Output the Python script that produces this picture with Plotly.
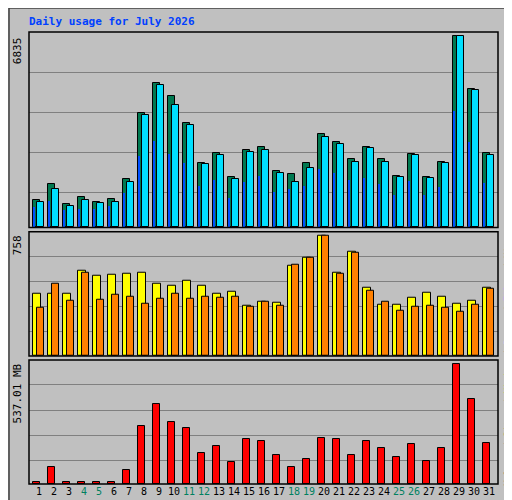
import plotly.graph_objects as go
from plotly.subplots import make_subplots

days = list(range(1, 32))
weekend = [4, 5, 11, 12, 18, 19, 25, 26]

hits = [966, 1539, 823, 1074, 895, 1002, 1718, 4080, 5154, 4689, 3722, 2291, 2649, 1790, 2756, 2863,
        2004, 1897, 2291, 3328, 3042, 2434, 2863, 2434, 1825, 2613, 1790, 2326, 6835, 4939, 2649]
files = [895, 1360, 752, 966, 859, 895, 1611, 4008, 5082, 4366, 3651, 2255, 2577, 1718, 2684, 2756,
         1933, 1611, 2112, 3221, 2971, 2326, 2827, 2326, 1790, 2577, 1754, 2291, 6835, 4903, 2577]
pages = [716, 931, 608, 644, 644, 752, 1217, 2541, 3078, 2613, 2291, 1467, 1682, 1038, 1611, 1825,
         1253, 1360, 1467, 2076, 1933, 1682, 1754, 1539, 1145, 1646, 1145, 1432, 4151, 3042, 1575]
visits = [392, 392, 392, 537, 505, 512, 518, 524, 455, 442, 474, 442, 392, 404, 316, 341,
          335, 569, 619, 758, 524, 657, 430, 322, 322, 366, 398, 373, 329, 347, 430]
sites = [303, 455, 347, 524, 354, 385, 373, 329, 360, 392, 360, 373, 366, 373, 310, 341,
         316, 575, 619, 758, 518, 651, 411, 341, 284, 310, 316, 303, 278, 322, 423]
volume = [10.5, 78, 10.5, 10.5, 10.5, 10.5, 64.5, 258, 357, 280, 249, 137, 172, 100, 200, 195,
          132, 78, 114, 208, 204, 132, 195, 163, 123, 181, 105, 163, 537.01, 380, 186]

fig = make_subplots(rows=3, cols=1, shared_xaxes=True, vertical_spacing=0)

line = dict(color="black", width=1)
fig.add_trace(go.Bar(x=days, y=hits, offset=-0.4, width=0.45, marker=dict(color="#007850", line=line)), 1, 1)
fig.add_trace(go.Bar(x=days, y=files, offset=-0.14, width=0.47, marker=dict(color="#00E0FF", line=line)), 1, 1)
fig.add_trace(go.Bar(x=days, y=pages, offset=-0.34, width=0.1, marker=dict(color="#0050FF", line=dict(width=0))), 1, 1)
fig.add_trace(go.Bar(x=days, y=visits, offset=-0.4, width=0.5, marker=dict(color="#FFFF00", line=line)), 2, 1)
fig.add_trace(go.Bar(x=days, y=sites, offset=-0.14, width=0.47, marker=dict(color="#FF8000", line=line)), 2, 1)
fig.add_trace(go.Bar(x=days, y=volume, offset=-0.4, width=0.47, marker=dict(color="#FF0000", line=line)), 3, 1)

H = 451.0
doms = [((476 - 220) / H, 1.0), ((476 - 348.3) / H, (476 - 224.3) / H), (0.0, (476 - 352.3) / H)]
ranges = [6835 * 195 / 191.0, 758 * 124 / 120.0, 537.01 * 123.7 / 119.4]
heights = [195.0, 124.0, 123.7]
grid_px = [[35, 75, 115, 155], [24, 49, 74, 99], [23.7, 48.7, 73.7, 99]]

for i in range(3):
    fig.update_yaxes(row=i + 1, col=1, domain=list(doms[i]), range=[0, ranges[i]],
                     tickvals=[ranges[i] * p / heights[i] for p in grid_px[i]],
                     showticklabels=False, showgrid=True, gridcolor="#808080", gridwidth=1,
                     zeroline=False, showline=False)
    fig.add_shape(type="rect", xref="paper", yref="paper", x0=0, x1=1, y0=doms[i][0], y1=doms[i][1],
                  line=dict(color="black", width=1.5))

ticktext = [f"<span style='color:#008060'>{d}</span>" if d in weekend else str(d) for d in days]
fig.update_xaxes(range=[0.33, 31.6], showgrid=False, zeroline=False, showline=False, ticks="")
fig.update_xaxes(row=3, col=1, tickvals=days, ticktext=ticktext, tickangle=0,
                 tickfont=dict(family="DejaVu Sans Mono", size=10, color="black"))

mono = "DejaVu Sans Mono"
fig.add_annotation(text="<b>Daily usage for July 2026</b>", xref="paper", yref="paper",
                   x=-0.004, y=(476 - 15) / H, xanchor="left", yanchor="middle", showarrow=False,
                   font=dict(family=mono, size=11, color="#0040FF"))
for txt, ytop in [("6835", 28), ("758", 226), ("537.01 MB", 354)]:
    fig.add_annotation(text=txt, textangle=-90, xref="paper", yref="paper",
                       x=-0.006, y=(476 - ytop) / H, xanchor="right", yanchor="top", showarrow=False,
                       font=dict(family=mono, size=11, color="black"))

legend = ("<span style='color:#FF0000'>Volume</span> / <span style='color:#FF8000'>Sites</span> / "
          "<span style='color:#FFFF00'>Visits</span> / <span style='color:#00C0FF'>Pages</span> / "
          "<span style='color:#0040FF'>Files</span> / <span style='color:#008060'>Hits</span>")
fig.add_annotation(text=legend, textangle=-90, xref="paper", yref="paper",
                   x=(500 - 21) / 469.0, y=(476 - 354) / H, xanchor="center", yanchor="middle",
                   showarrow=False, font=dict(family=mono, size=9, color="#404040"))

fig.add_shape(type="rect", xref="paper", yref="paper", x0=-20 / 469.0, x1=(510 - 21) / 469.0,
              y0=(476 - 498) / H, y1=(476 - 1) / H, line=dict(color="#404040", width=1.5))

fig.update_layout(width=512, height=500, margin=dict(l=21, r=22, t=24, b=24),
                  paper_bgcolor="#C0C0C0", plot_bgcolor="#C0C0C0", showlegend=False,
                  barmode="overlay", bargap=0)

fig.write_html("out.html")
